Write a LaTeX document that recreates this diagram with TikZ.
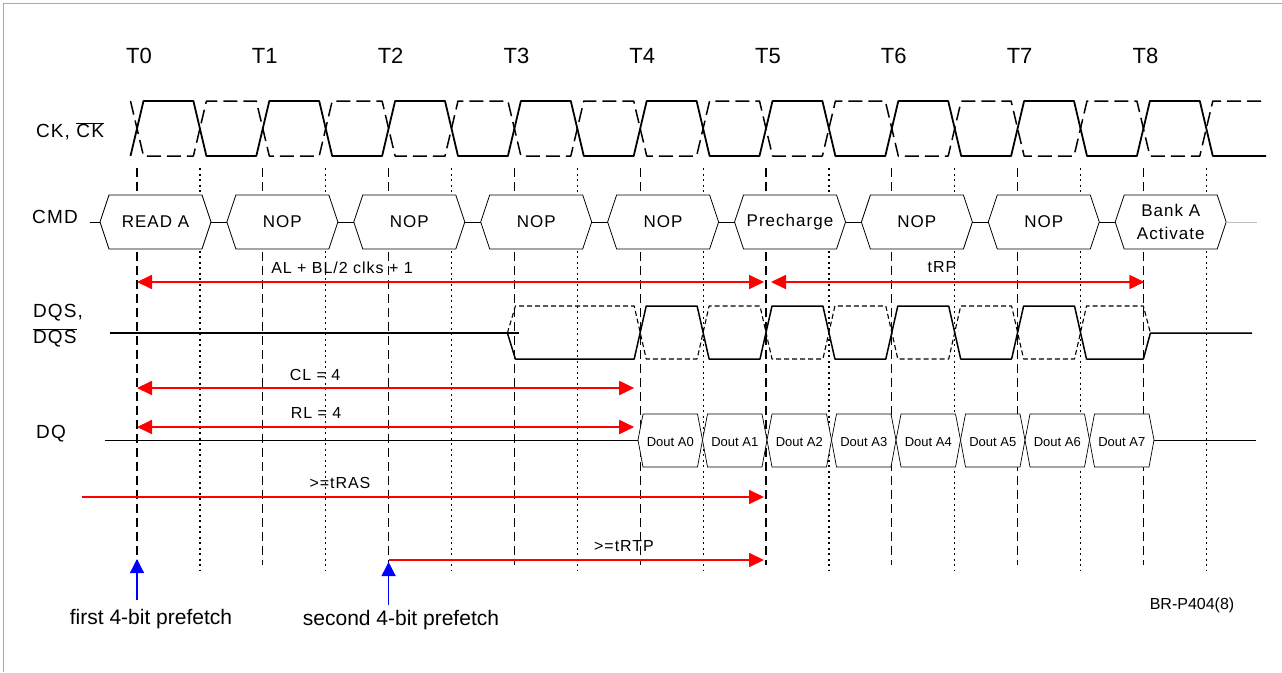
\documentclass[tikz,border=0pt]{standalone}
\usepackage{fontspec}
\setmainfont{Liberation Sans}
\newfontfamily\spacedfont[LetterSpace=6]{Liberation Sans}
\usetikzlibrary{arrows.meta}
\definecolor{framecol}{RGB}{125,180,230}

\begin{document}
\begin{tikzpicture}[
  x=1pt, y=-1pt,
  tlabel/.style={font=\fontsize{22}{24}\selectfont},
  siglabel/.style={font=\spacedfont\fontsize{19}{26}\selectfont, align=left},
  cmdtext/.style={font=\spacedfont\fontsize{17}{23}\selectfont, align=center},
  douttext/.style={font=\fontsize{13}{15}\selectfont},
  timetext/.style={font=\spacedfont\fontsize{16}{18}\selectfont},
  notetext/.style={font=\fontsize{21}{24}\selectfont},
  clkline/.style={line width=1.8pt, line join=round},
  clkbar/.style={line width=1.5pt, line join=round, dash pattern=on 14pt off 6pt},
  dqsline/.style={line width=1.5pt, line join=round},
  dqsbar/.style={line width=1.1pt, line join=round, dash pattern=on 5pt off 3pt},
  tline/.style={line width=1.3pt, dash pattern=on 9pt off 5pt},
  hline/.style={line width=1.2pt, dash pattern=on 2pt off 3.5pt},
  cmdbox/.style={draw, line width=0.8pt, fill=white},
  doutbox/.style={draw, line width=0.7pt, fill=white},
  redarr/.style={draw=red, line width=1.8pt, -{Triangle[length=15pt,width=14pt]}},
  redboth/.style={redarr, {Triangle[length=15pt,width=14pt]}-{Triangle[length=15pt,width=14pt]}},
  bluearr/.style={draw=blue, line width=1.2pt, -{Triangle[length=14pt,width=14pt]}}
]
\useasboundingbox (0,0) rectangle (1282,672);
\def\tz{137}
\def\pp{125.8}
\def\hp{62.9}

% ---------- frame ----------
\draw[framecol, line width=1pt] (3,672) -- (3,3) -- (1282,3);

% ---------- clock numbers and grid ----------
\foreach \i in {0,...,8} {
  \node[tlabel] (t\i) at ({\tz+\i*\pp+2},56) {T\i};
  \draw[tline] ({\tz+\i*\pp},168) -- ({\tz+\i*\pp},565);
  \draw[hline] ({\tz+\i*\pp+\hp},168) -- ({\tz+\i*\pp+\hp},570);
}

% ---------- CK ----------
\node[siglabel] (ck) at (70,131) {CK, $\overline{\mbox{CK}}$};
\draw[clkline] ({\tz-6.5},156) \foreach \i in {0,...,8} {
    -- ({\tz+\i*\pp-6.5},156) -- ({\tz+\i*\pp+6.5},101)
    -- ({\tz+\i*\pp+\hp-6.5},101) -- ({\tz+\i*\pp+\hp+6.5},156) } -- (1266,156);
\draw[clkbar] ({\tz-6.5},101) \foreach \i in {0,...,8} {
    -- ({\tz+\i*\pp-6.5},101) -- ({\tz+\i*\pp+6.5},156)
    -- ({\tz+\i*\pp+\hp-6.5},156) -- ({\tz+\i*\pp+\hp+6.5},101) } -- (1262,101);

% ---------- CMD ----------
\node[siglabel] (cmd) at (55,217) {CMD};
\draw[line width=0.8pt] (90,222) -- (100,222);
\foreach \k/\txt in {0/READ A,1/NOP,2/NOP,3/NOP,4/NOP,5/Precharge,6/NOP,7/NOP,8/{Bank A\\Activate}} {
  \pgfmathsetmacro\xl{100+\k*126.9}
  \draw[cmdbox] (\xl,222) -- ++(9,-27) -- ++(93,0) -- ++(9,27) -- ++(-9,27) -- ++(-93,0) -- cycle;
  \node[cmdtext] (c\k) at ({\xl+55.5},222) {\txt};
}
\foreach \k in {0,...,7}
  \draw[line width=0.8pt] ({100+\k*126.9+111},222) -- ({100+(\k+1)*126.9},222);
\draw[gray!50, line width=0.8pt] (1226,222) -- (1257,222);

% ---------- AL + BL/2 and tRP ----------
\coordinate (alS) at (\tz,282);
\coordinate (alE) at ({\tz+5*\pp-2},282);
\coordinate (rpS) at ({\tz+5*\pp+5},282);
\coordinate (rpE) at ({\tz+8*\pp+1},282);
\draw[redboth] (alS) -- (alE);
\draw[redboth] (rpS) -- (rpE);
\node[timetext] (al) at (342,268) {AL + BL/2 clks + 1};
\node[timetext] (rp) at (942,267) {tRP};

% ---------- DQS ----------
\node[siglabel] (dqs) at (58,326) {DQS,\\$\overline{\mbox{DQS}}$};
\draw[line width=1.3pt] (110,333) -- ({\tz+3*\pp+5},333);
\draw[dqsline] ({\tz+3*\pp-7},333) -- ({\tz+3*\pp+1},359) \foreach \i in {4,...,7} {
    -- ({\tz+\i*\pp-6},359) -- ({\tz+\i*\pp+6},306)
    -- ({\tz+\i*\pp+\hp-6},306) -- ({\tz+\i*\pp+\hp+6},359) }
    -- ({\tz+8*\pp},359) -- ({\tz+8*\pp+7},333) -- (1252,333);
\draw[dqsbar] ({\tz+3*\pp-7},333) -- ({\tz+3*\pp+1},306) \foreach \i in {4,...,7} {
    -- ({\tz+\i*\pp-6},306) -- ({\tz+\i*\pp+6},359)
    -- ({\tz+\i*\pp+\hp-6},359) -- ({\tz+\i*\pp+\hp+6},306) }
    -- ({\tz+8*\pp},306) -- ({\tz+8*\pp+7},333);

% ---------- CL and RL ----------
\coordinate (clS) at (\tz,388);
\coordinate (clE) at ({\tz+4*\pp-6},388);
\coordinate (rlS) at (\tz,427);
\coordinate (rlE) at ({\tz+4*\pp-6},427);
\draw[redboth] (clS) -- (clE);
\draw[redboth] (rlS) -- (rlE);
\node[timetext] (cl) at (315,375) {CL = 4};
\node[timetext] (rl) at (316,413) {RL = 4};

% ---------- DQ ----------
\node[siglabel] (dq) at (51,434) {DQ};
\draw[line width=0.9pt] (105,440) -- (638,440);
\foreach \k in {0,...,7} {
  \pgfmathsetmacro\xa{638+\k*64.5}
  \draw[doutbox] (\xa,440) -- ++(5,-26) -- ++(54.5,0) -- ++(5,26) -- ++(-5,27) -- ++(-54.5,0) -- cycle;
  \node[douttext] (d\k) at ({\xa+32.3},442) {Dout A\k};
}
\draw[line width=0.9pt] (1154,440) -- (1256,440);

% ---------- tRAS and tRTP ----------
\coordinate (rasS) at (82,497);
\coordinate (rasE) at ({\tz+5*\pp-2},497);
\coordinate (rtpS) at ({\tz+2*\pp},560);
\coordinate (rtpE) at ({\tz+5*\pp-2},560);
\draw[redarr] (rasS) -- (rasE);
\draw[redarr] (rtpS) -- (rtpE);
\node[timetext] (ras) at (340,483) {>=tRAS};
\node[timetext] (rtp) at (624,546) {>=tRTP};

% ---------- prefetch markers ----------
\coordinate (pf1) at (\tz,600);
\coordinate (pf1tip) at (\tz,559);
\coordinate (pf2) at ({\tz+2*\pp},605);
\coordinate (pf2tip) at ({\tz+2*\pp},562);
\draw[bluearr] (pf1) -- (pf1tip);
\draw[bluearr] (pf2) -- (pf2tip);
\node[notetext] (n1) at (151,619) {first 4-bit prefetch};
\node[notetext] (n2) at (401,620) {second 4-bit prefetch};
\node[font=\fontsize{16}{18}\selectfont] (br) at (1192,605) {BR-P404(8)};

\end{tikzpicture}
\end{document}
